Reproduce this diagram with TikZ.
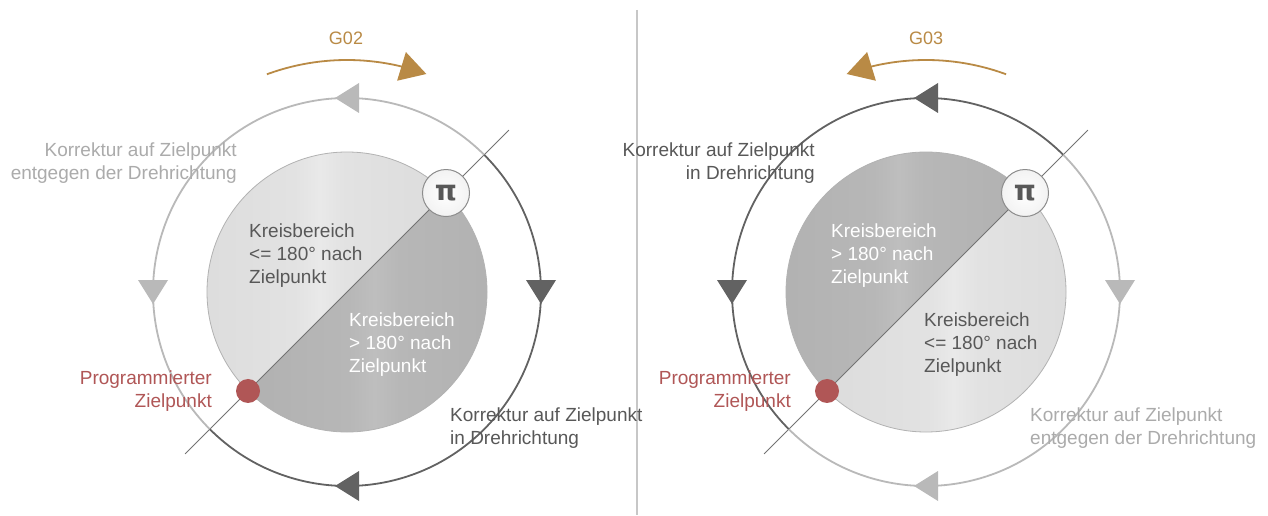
\documentclass[tikz,border=0pt]{standalone}
\usepackage{fontspec}
\setmainfont{Liberation Sans}
\newfontfamily\pifont{DejaVu Sans}
\usetikzlibrary{calc}
\definecolor{dk}{HTML}{626262}
\definecolor{lt}{HTML}{B9B9B9}
\definecolor{txtdk}{HTML}{585858}
\definecolor{txtlt}{HTML}{ABABAB}
\definecolor{gold}{HTML}{B98A45}
\definecolor{redd}{HTML}{B05656}
\definecolor{mA}{HTML}{D4D4D4}
\definecolor{mB}{HTML}{DCDCDC}
\definecolor{mC}{HTML}{E2E2E2}
\definecolor{mD}{HTML}{E9E9E9}
\definecolor{dA}{HTML}{ABABAB}
\definecolor{dB}{HTML}{B1B1B1}
\definecolor{dC}{HTML}{B7B7B7}
\definecolor{dD}{HTML}{BEBEBE}
\pgfdeclarehorizontalshading{metalL}{100bp}{color(0bp)=(mA); color(25bp)=(mB); color(45bp)=(mC); color(50bp)=(mD); color(55bp)=(mC); color(75bp)=(mB); color(100bp)=(mA)}
\pgfdeclarehorizontalshading{metalD}{100bp}{color(0bp)=(dA); color(25bp)=(dB); color(45bp)=(dC); color(50bp)=(dD); color(55bp)=(dC); color(75bp)=(dB); color(100bp)=(dA)}
\tikzset{
  txt/.style={font=\fontsize{19}{23}\selectfont, inner sep=0pt},
  gtxt/.style={font=\fontsize{18}{22}\selectfont, inner sep=0pt, text=gold},
  outerarc/.style={line width=1.8pt},
  diag/.style={draw=black!55, line width=0.8pt},
  diskline/.style={draw=black!30, line width=0.8pt},
  picirc/.style={circle, minimum size=47pt, inner sep=0pt, draw=black!45, line width=1pt, inner color=white, outer color=black!5, text=black!65, font=\fontsize{28}{28}\selectfont\pifont\bfseries},
  reddot/.style={circle, minimum size=24pt, inner sep=0pt, fill=redd},
  divider/.style={draw=black!22, line width=1.2pt},
  tri/.pic={\fill (12,0) -- (-12,15) -- (-12,-15) -- cycle;},
  gtri/.pic={\fill (0,0) -- (-26,15) -- (-26,-15) -- cycle;}
}
\begin{document}
\begin{tikzpicture}[x=1pt,y=1pt]
\useasboundingbox (0,0) rectangle (1268,515);
\fill[white] (0,0) rectangle (1268,515);

% divider
\coordinate (divT) at (637,505);
\coordinate (divB) at (637,0);
\draw[divider] (divT) -- (divB);

% ================= LEFT (G02) =================
\coordinate (cL) at (347,223);
\shade[shading=metalL] ($(cL)+(45:140)$) arc[start angle=45,end angle=225,radius=140] -- cycle;
\shade[shading=metalD] ($(cL)+(225:140)$) arc[start angle=225,end angle=405,radius=140] -- cycle;
\draw[diskline] (cL) circle[radius=140];
\coordinate (L-d1) at ($(cL)+(225:229)$);
\coordinate (L-d2) at ($(cL)+(45:229)$);
\draw[diag] (L-d1) -- (L-d2);
\draw[outerarc, lt] ($(cL)+(45:194)$) arc[start angle=45,end angle=225,radius=194];
\draw[outerarc, dk] ($(cL)+(225:194)$) arc[start angle=225,end angle=405,radius=194];
\pic[color=lt, rotate=180] at ($(cL)+(90:194)$) {tri};
\pic[color=lt, rotate=-90] at ($(cL)+(180:194)$) {tri};
\pic[color=dk, rotate=-90] at ($(cL)+(0:194)$) {tri};
\pic[color=dk, rotate=180] at ($(cL)+(270:194)$) {tri};
% G02 arrow
\draw[gold, line width=1.8pt] ($(cL)+(110.2:232)$) arc[start angle=110.2,end angle=76,radius=232];
\pic[color=gold, rotate=-17] at ($(cL)+(70:232)$) {gtri};
\node[gtxt] (L-g) at (346,477) {G02};
\node[picirc] (L-pi) at ($(cL)+(45:140)$) {π};
\node[reddot] (L-dot) at ($(cL)+(225:140)$) {};
\node[txt, text=txtdk, anchor=base west, align=left] (L-in1) at (249,232) {Kreisbereich\\<= 180° nach\\Zielpunkt};
\node[txt, text=white, anchor=base west, align=left] (L-in2) at (349,143) {Kreisbereich\\> 180° nach\\Zielpunkt};
\node[txt, text=txtlt, anchor=base east, align=right] (L-k1) at (237,335) {Korrektur auf Zielpunkt\\entgegen der Drehrichtung};
\node[txt, text=redd, anchor=base east, align=right] (L-p) at (212,108) {Programmierter\\Zielpunkt};
\node[txt, text=txtdk, anchor=base west, align=left] (L-k2) at (450,71) {Korrektur auf Zielpunkt\\in Drehrichtung};

% ================= RIGHT (G03) =================
\coordinate (cR) at (926,223);
\shade[shading=metalD] ($(cR)+(45:140)$) arc[start angle=45,end angle=225,radius=140] -- cycle;
\shade[shading=metalL] ($(cR)+(225:140)$) arc[start angle=225,end angle=405,radius=140] -- cycle;
\draw[diskline] (cR) circle[radius=140];
\coordinate (R-d1) at ($(cR)+(225:229)$);
\coordinate (R-d2) at ($(cR)+(45:229)$);
\draw[diag] (R-d1) -- (R-d2);
\draw[outerarc, dk] ($(cR)+(45:194)$) arc[start angle=45,end angle=225,radius=194];
\draw[outerarc, lt] ($(cR)+(225:194)$) arc[start angle=225,end angle=405,radius=194];
\pic[color=dk, rotate=180] at ($(cR)+(90:194)$) {tri};
\pic[color=dk, rotate=-90] at ($(cR)+(180:194)$) {tri};
\pic[color=lt, rotate=-90] at ($(cR)+(0:194)$) {tri};
\pic[color=lt, rotate=180] at ($(cR)+(270:194)$) {tri};
% G03 arrow
\draw[gold, line width=1.8pt] ($(cR)+(69.8:232)$) arc[start angle=69.8,end angle=104,radius=232];
\pic[color=gold, rotate=197] at ($(cR)+(110:232)$) {gtri};
\node[gtxt] (R-g) at (926,477) {G03};
\node[picirc] (R-pi) at ($(cR)+(45:140)$) {π};
\node[reddot] (R-dot) at ($(cR)+(225:140)$) {};
\node[txt, text=white, anchor=base west, align=left] (R-in1) at (831,232) {Kreisbereich\\> 180° nach\\Zielpunkt};
\node[txt, text=txtdk, anchor=base west, align=left] (R-in2) at (924,143) {Kreisbereich\\<= 180° nach\\Zielpunkt};
\node[txt, text=txtdk, anchor=base east, align=right] (R-k1) at (815,335) {Korrektur auf Zielpunkt\\in Drehrichtung};
\node[txt, text=redd, anchor=base east, align=right] (R-p) at (791,108) {Programmierter\\Zielpunkt};
\node[txt, text=txtlt, anchor=base west, align=left] (R-k2) at (1030,71) {Korrektur auf Zielpunkt\\entgegen der Drehrichtung};
\end{tikzpicture}
\end{document}
